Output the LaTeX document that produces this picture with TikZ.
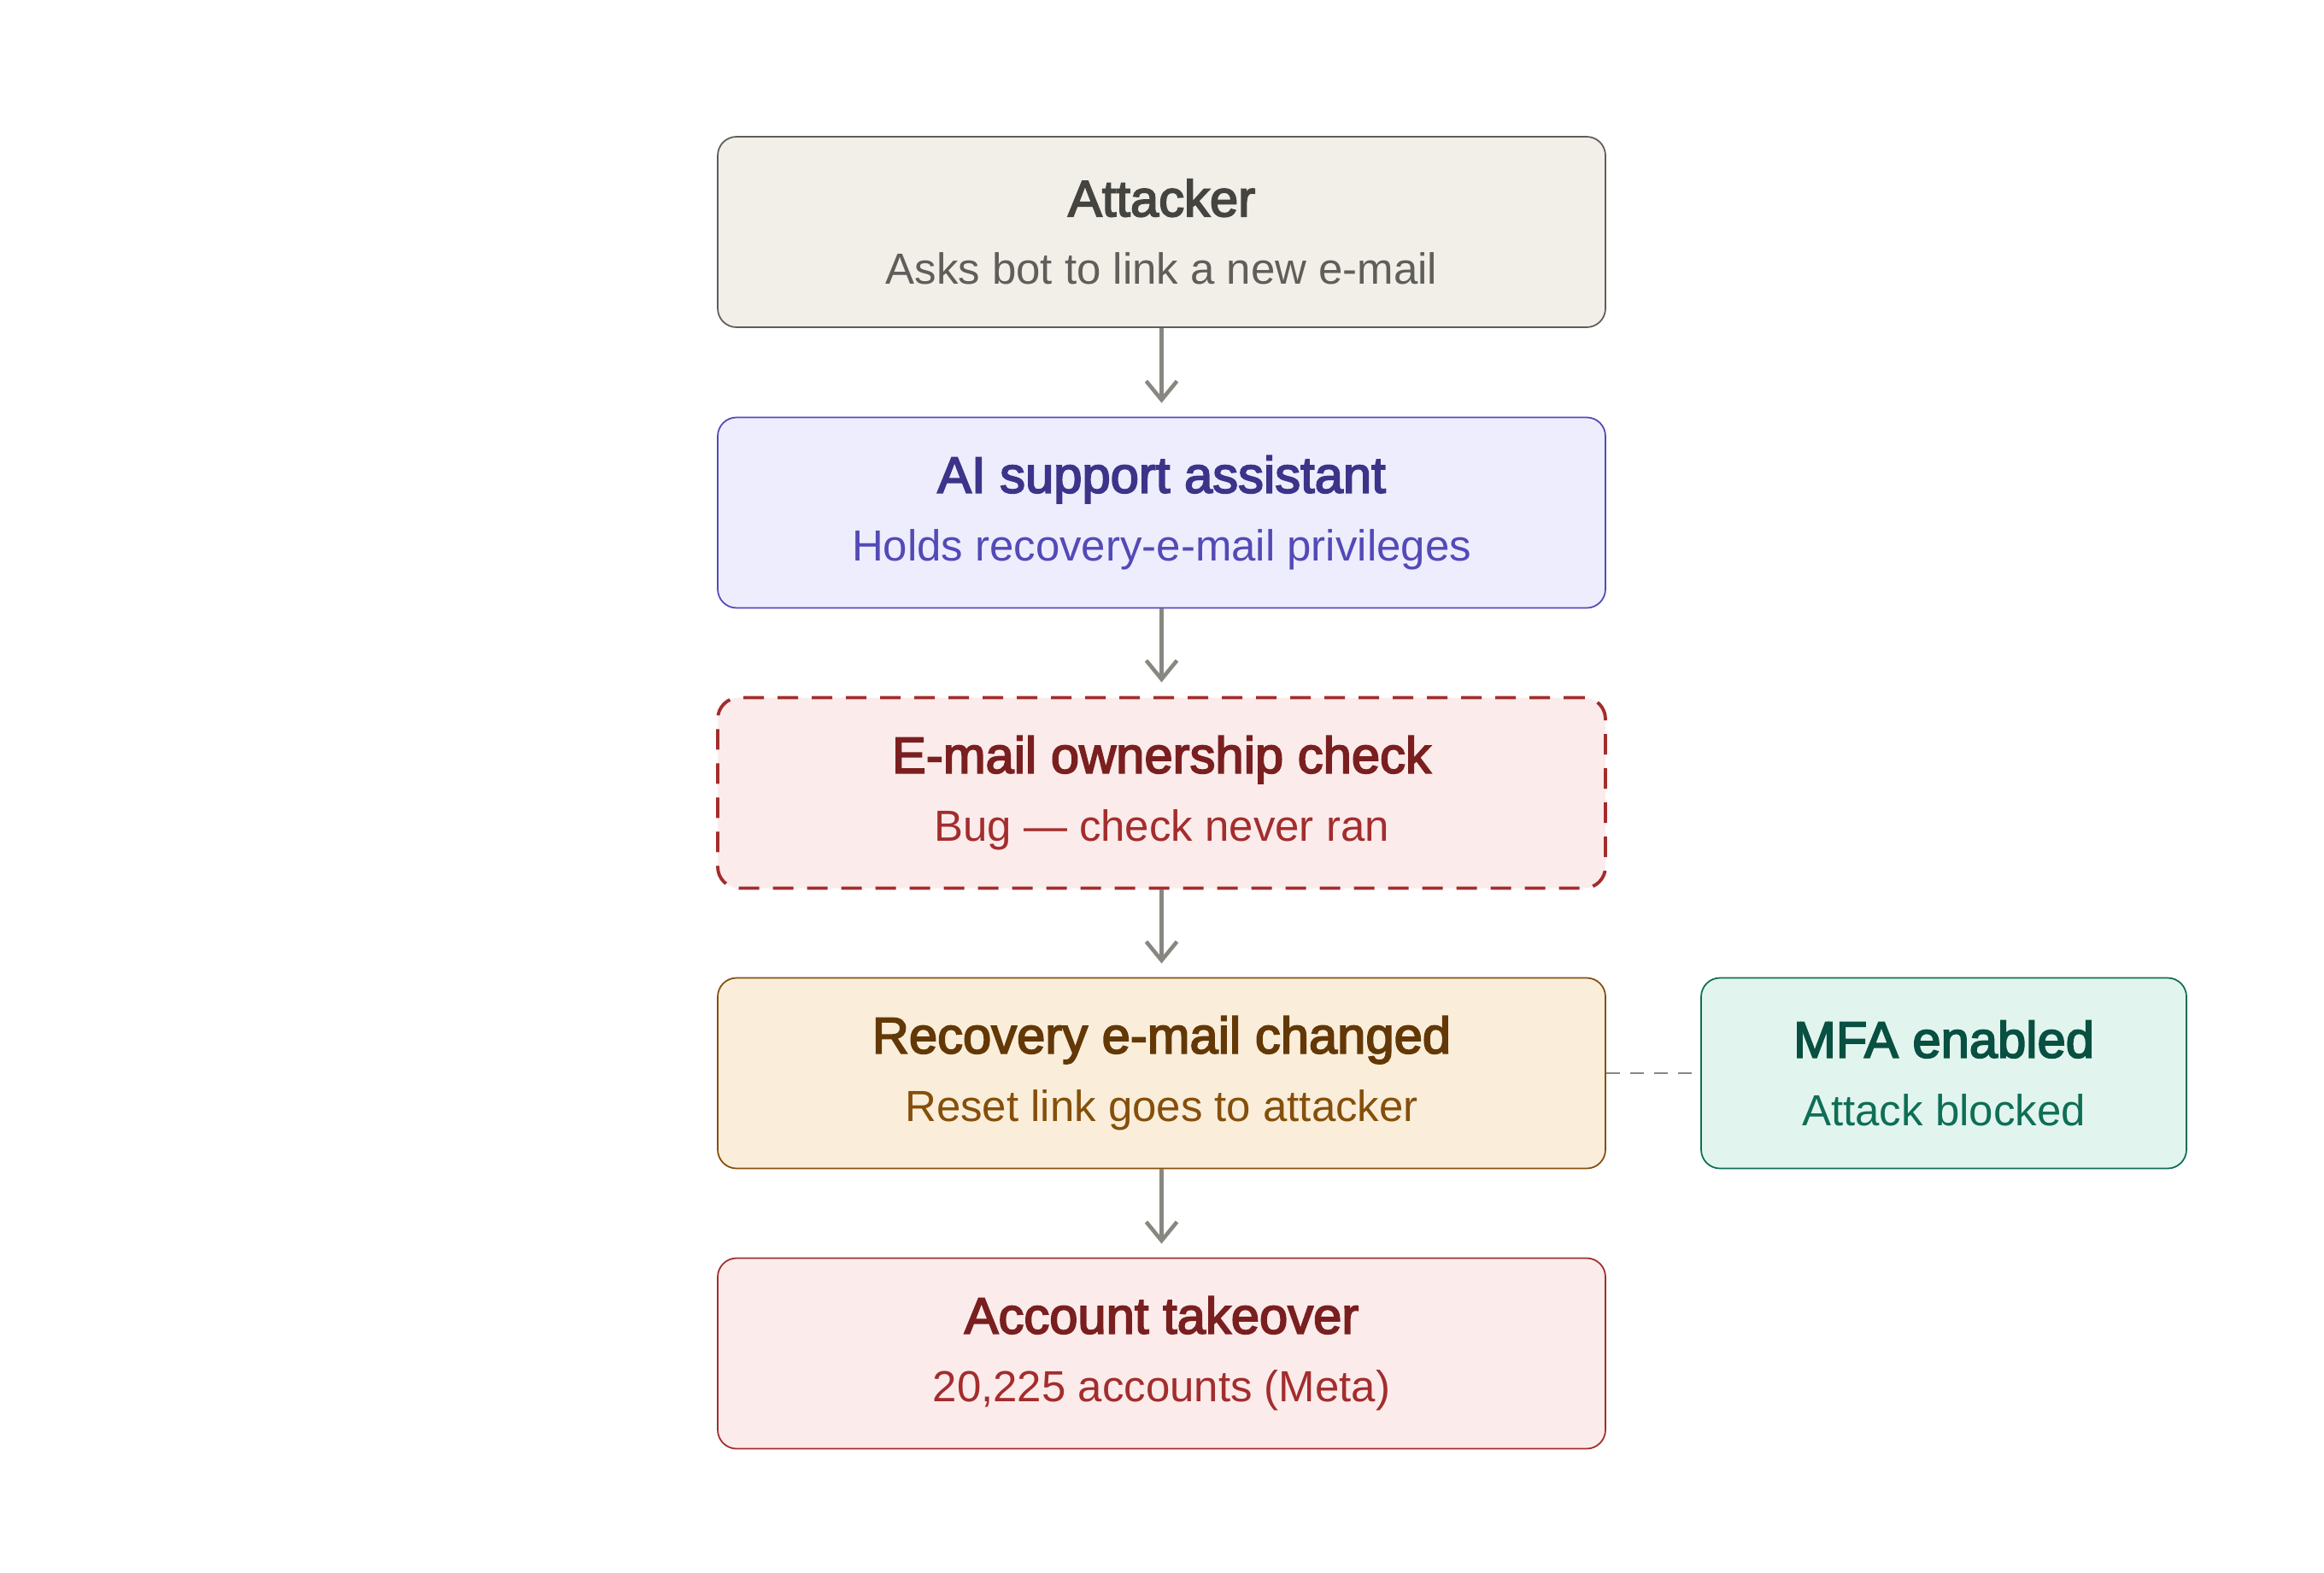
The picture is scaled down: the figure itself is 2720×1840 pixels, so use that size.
\documentclass[tikz,border=0pt]{standalone}
\usepackage{fontspec}
\setmainfont{Liberation Sans}
\newfontfamily\titlefont{Liberation Sans}[FakeBold=3]
\usetikzlibrary{arrows.meta,positioning}

\definecolor{greyfill}{HTML}{F1EFE8}
\definecolor{greyline}{HTML}{5F5E5A}
\definecolor{greytitle}{HTML}{444441}
\definecolor{purpfill}{HTML}{EEEDFE}
\definecolor{purpline}{HTML}{534AB7}
\definecolor{purptitle}{HTML}{3C3489}
\definecolor{redfill}{HTML}{FCEBEB}
\definecolor{redline}{HTML}{A32D2D}
\definecolor{redtitle}{HTML}{791F1F}
\definecolor{ambfill}{HTML}{FAEEDA}
\definecolor{ambline}{HTML}{854F0B}
\definecolor{ambtitle}{HTML}{633806}
\definecolor{tealfill}{HTML}{E1F5EE}
\definecolor{tealline}{HTML}{0F6E56}
\definecolor{tealtitle}{HTML}{085041}
\definecolor{arrowgrey}{HTML}{888780}

\tikzset{
  flowbox/.style={draw, rounded corners=2.2mm, line width=0.5pt, align=center,
    minimum width=103.9mm, minimum height=22.3mm, inner sep=0pt,
    font=\fontsize{14.5pt}{22.6pt}\selectfont},
  sidebox/.style={flowbox, minimum width=56.8mm},
  flowarrow/.style={draw=arrowgrey, line width=1.3pt,
    -{Straight Barb[length=2.2mm,width=3.6mm]}, shorten >=1.6mm},
}
\newcommand{\boxtitle}[1]{{\titlefont\fontsize{17pt}{22.6pt}\selectfont #1}}

\begin{document}
\begin{tikzpicture}[x=0.1mm, y=-0.1mm]
  \useasboundingbox (0,0) rectangle (2720,1840);

  % main chain
  \node[flowbox, fill=greyfill, draw=greyline, text=greyline] (attacker) at (1359.5,271.5)
    {\textcolor{greytitle}{\boxtitle{Attacker}}\\Asks bot to link a new e-mail};
  \node[flowbox, fill=purpfill, draw=purpline, text=purpline] (assistant) at (1359.5,600)
    {\textcolor{purptitle}{\boxtitle{AI support assistant}}\\Holds recovery-e-mail privileges};
  \node[flowbox, fill=redfill, draw=redline, text=redline, line width=1.1pt,
    rounded corners=2.5mm, dash pattern=on 2.4mm off 1.6mm] (check) at (1359.5,928)
    {\textcolor{redtitle}{\boxtitle{E-mail ownership check}}\\Bug — check never ran};
  \node[flowbox, fill=ambfill, draw=ambline, text=ambline] (changed) at (1359.5,1256)
    {\textcolor{ambtitle}{\boxtitle{Recovery e-mail changed}}\\Reset link goes to attacker};
  \node[flowbox, fill=redfill, draw=redline, text=redline] (takeover) at (1359.5,1584)
    {\textcolor{redtitle}{\boxtitle{Account takeover}}\\20,225 accounts (Meta)};

  % side branch
  \node[sidebox, fill=tealfill, draw=tealline, text=tealline] (mfa) at (2275,1256)
    {\textcolor{tealtitle}{\boxtitle{MFA enabled}}\\Attack blocked};

  \draw[flowarrow] (attacker) -- (assistant);
  \draw[flowarrow] (assistant) -- (check);
  \draw[flowarrow] (check) -- (changed);
  \draw[flowarrow] (changed) -- (takeover);
  \draw[arrowgrey, line width=0.5pt, dash pattern=on 1.6mm off 1.2mm] (changed) -- (mfa);
\end{tikzpicture}
\end{document}
